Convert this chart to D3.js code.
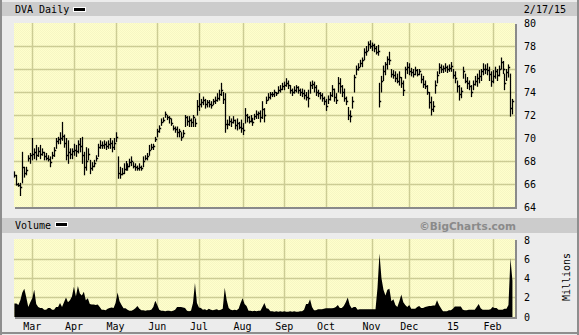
<!DOCTYPE html>
<html><head><meta charset="utf-8">
<script src="https://cdn.jsdelivr.net/npm/d3@7"></script>
<style>
html,body{margin:0;padding:0;background:#ececec;}
svg{display:block;}
text{font-family:"DejaVu Sans Mono","Liberation Mono",monospace;font-size:10px;fill:#000;}
</style></head><body>
<svg id="c" width="579" height="335"></svg>
<script>
const symbolTitle = "DVA Daily";
const asOfLabel = "2/17/15";
const volumeTitle = "Volume";
const creditText = "\u00A9BigCharts.com";
const volumeUnit = "Millions";
const priceTicks = [64, 66, 68, 70, 72, 74, 76, 78, 80];
const volumeTicks = [0, 2, 4, 6, 8];
const monthLabels = ["Mar","Apr","May","Jun","Jul","Aug","Sep","Oct","Nov","Dec","15","Feb"];
const firstDay = "2014-02-18", lastDay = "2015-02-17";
const holidays = ["2014-04-18","2014-05-26","2014-07-04","2014-09-01","2014-11-27","2014-12-25","2015-01-01","2015-01-19","2015-02-16"];

const high = [67.1,66.8,66.1,66.1,68.8,67.5,67.5,68.5,68.7,70.0,
69.1,69.4,69.2,69.4,69.1,68.8,68.7,68.5,68.4,68.8,
69.2,70.0,70.1,70.5,71.4,70.3,70.0,69.8,69.1,69.1,
69.5,69.4,69.8,70.0,70.1,68.8,69.2,69.1,68.1,67.9,
68.1,68.5,69.5,69.8,69.7,69.8,69.7,69.8,70.0,69.8,
70.0,70.5,68.4,67.5,67.4,67.8,68.0,67.8,68.2,68.4,
67.9,67.8,67.6,67.8,67.6,68.4,68.5,68.7,69.4,69.5,
69.5,70.1,70.8,71.1,71.7,71.8,72.3,72.0,71.9,71.7,
71.1,71.0,71.0,70.8,70.5,70.7,72.0,71.9,71.9,71.7,
72.0,71.7,73.3,73.9,73.4,73.6,73.4,73.3,73.3,73.2,
73.4,73.6,73.9,74.2,74.8,74.0,73.9,71.6,71.9,71.7,
71.9,71.6,71.7,71.4,71.6,71.3,72.6,72.1,71.9,72.0,
71.7,72.1,72.4,72.3,72.4,73.2,72.6,73.6,73.9,74.0,
74.0,74.2,74.0,74.5,74.6,74.8,74.9,75.2,75.0,74.6,
74.3,74.5,74.6,74.5,74.3,74.3,74.2,74.0,74.2,74.9,
75.0,74.9,74.6,74.2,74.0,73.9,73.6,73.4,73.7,74.0,
74.6,74.3,73.9,75.3,75.2,74.6,74.3,73.6,72.7,72.4,
73.6,75.5,76.3,76.5,76.8,77.0,77.8,78.0,78.4,78.5,
78.3,78.2,78.0,78.1,74.8,75.4,76.3,76.6,77.1,77.5,
76.0,75.9,75.8,75.6,75.8,75.3,75.0,76.2,76.6,76.5,
76.1,76.0,76.2,76.0,76.0,75.6,75.4,75.0,74.6,74.0,
73.6,73.2,75.0,75.8,76.5,76.4,76.3,76.5,76.3,76.4,
76.6,76.0,75.8,75.0,74.6,74.4,76.2,75.6,75.3,75.0,
74.6,75.0,75.4,75.6,75.9,76.0,76.5,76.4,76.5,76.2,
75.8,75.9,76.2,76.0,76.3,77.0,76.7,75.6,76.0,76.4,
75.6,73.4];

const low = [66.6,65.9,65.8,65.0,66.1,66.6,66.8,68.0,67.8,68.1,
68.2,68.1,68.4,68.2,68.5,68.1,68.1,68.0,67.5,68.2,
68.4,69.1,69.5,69.5,69.8,69.2,68.1,67.8,68.2,68.2,
68.5,68.4,68.7,68.8,67.8,66.8,67.2,68.1,66.9,67.2,
67.5,68.0,68.4,69.1,69.1,69.1,69.0,69.1,69.1,68.8,
69.0,69.7,66.5,66.5,66.8,66.9,67.2,67.2,67.5,67.6,
67.4,67.2,67.2,67.2,67.2,67.5,68.1,68.1,68.5,69.0,
69.0,69.7,70.1,70.5,71.1,71.4,71.8,71.6,71.3,71.1,
70.7,70.5,70.1,70.1,69.8,70.1,71.0,71.1,71.0,71.0,
71.0,71.0,72.0,72.4,72.7,72.9,72.6,72.7,72.7,72.6,
72.9,73.0,73.2,73.3,73.7,73.0,70.5,70.8,71.1,71.0,
71.3,70.8,70.7,70.8,70.5,70.3,71.3,71.4,71.3,71.4,
71.1,71.6,71.7,71.7,71.4,71.7,71.4,73.0,73.3,73.4,
73.6,73.6,73.7,73.9,74.0,74.2,74.2,74.5,74.3,73.9,
73.7,73.9,74.0,73.9,73.7,73.6,73.4,73.3,72.7,73.9,
74.3,74.0,73.7,73.6,73.4,73.2,72.9,72.4,73.0,73.3,
73.6,73.2,73.0,74.0,73.9,73.6,73.2,72.9,71.6,71.4,
72.6,74.0,75.5,75.9,76.2,76.2,76.8,77.2,77.6,77.8,
77.6,77.5,77.3,77.2,72.7,74.0,75.0,75.5,76.0,76.4,
75.3,75.2,74.9,74.8,74.6,74.4,73.7,75.2,75.6,75.5,
75.4,75.3,75.5,75.4,75.5,74.8,74.4,74.3,73.8,72.6,
72.0,72.3,73.9,74.8,75.6,75.7,75.7,75.8,75.7,75.8,
75.8,75.2,74.8,74.0,73.3,73.5,75.2,74.8,74.3,74.2,
73.6,74.2,74.6,74.5,74.8,75.0,75.5,75.6,75.5,75.0,
74.5,74.8,75.2,75.0,75.4,76.0,75.6,74.2,75.0,75.3,
71.9,72.1];

const close = [66.8,66.0,65.9,65.7,67.5,67.0,67.2,68.3,68.5,68.6,
68.8,68.5,68.9,68.6,68.8,68.4,68.3,68.2,67.9,68.5,
69.0,69.7,69.9,70.0,70.2,69.6,68.5,68.8,68.6,68.9,
69.0,68.9,69.5,69.3,68.5,67.5,68.0,68.6,67.4,67.6,
67.8,68.3,69.2,69.4,69.4,69.5,69.3,69.5,69.6,69.2,
69.6,70.1,67.0,66.9,67.0,67.3,67.5,67.6,67.9,68.0,
67.6,67.5,67.4,67.5,67.4,68.0,68.3,68.4,69.0,69.2,
69.3,69.9,70.6,70.9,71.4,71.6,72.1,71.8,71.7,71.3,
70.9,70.8,70.5,70.6,70.1,70.4,71.8,71.5,71.6,71.4,
71.8,71.3,72.8,73.0,73.1,73.3,73.0,73.1,73.0,72.9,
73.2,73.3,73.5,73.8,74.2,73.4,71.2,71.2,71.5,71.4,
71.6,71.1,71.3,71.0,70.9,70.7,72.0,71.8,71.5,71.7,
71.4,71.9,72.1,72.2,71.8,72.5,72.0,73.3,73.6,73.8,
73.8,74.0,73.9,74.2,74.3,74.5,74.6,74.8,74.6,74.2,
74.0,74.2,74.4,74.2,74.0,73.9,73.7,73.6,73.5,74.6,
74.7,74.4,74.0,73.9,73.7,73.5,73.2,72.8,73.4,73.7,
74.3,73.6,73.3,74.8,74.5,74.0,73.5,73.2,72.0,71.9,
73.2,75.3,76.0,76.2,76.5,76.8,77.5,77.6,78.2,78.0,
78.1,77.8,77.5,77.6,73.2,75.0,75.8,76.4,76.9,76.8,
75.6,75.5,75.2,75.0,75.3,74.8,74.2,76.0,76.2,75.8,
75.7,75.6,75.9,75.6,75.8,75.1,74.7,74.5,74.0,73.1,
72.5,72.8,74.6,75.5,76.2,76.0,76.1,76.2,76.0,76.1,
76.3,75.5,75.2,74.5,73.8,74.1,75.8,75.0,74.8,74.5,
74.0,74.7,75.0,75.2,75.4,75.8,76.0,76.0,75.9,75.6,
75.0,75.4,75.8,75.5,76.0,76.6,76.0,74.8,75.7,76.2,
72.6,73.2];

const volume = [1.35,1.35,1.2,1.7,2.5,2.9,2.0,1.0,1.5,1.9,
2.8,1.3,1.0,0.9,0.9,0.7,0.7,0.9,0.9,0.7,
0.7,1.0,1.0,1.4,1.0,1.5,2.0,1.5,1.7,2.1,
3.1,2.1,3.2,2.4,2.2,2.6,1.7,1.9,1.3,1.25,
1.25,1.2,1.25,1.0,0.7,0.7,0.65,0.8,0.9,0.95,
0.9,1.4,2.5,1.6,1.2,0.85,0.85,0.7,0.6,0.6,
0.7,0.85,1.1,0.8,0.65,0.65,0.6,0.65,0.65,0.7,
1.0,1.65,1.2,0.7,0.6,0.6,0.55,0.6,0.6,0.55,
0.6,0.7,1.0,1.0,1.0,0.95,0.9,0.6,0.55,0.6,
1.4,3.5,1.4,0.95,0.9,0.7,0.75,0.65,0.8,0.7,
0.65,0.7,0.75,0.65,0.7,0.8,3.0,1.7,0.9,0.7,
0.65,0.7,0.65,0.8,1.4,1.9,1.3,1.1,0.6,0.6,
0.55,0.6,0.55,0.6,0.6,1.0,1.4,0.85,0.8,0.55,
0.55,0.5,0.55,0.5,0.55,0.5,0.55,0.5,0.5,0.55,
0.5,0.55,0.5,0.5,0.55,0.55,0.7,1.3,1.3,1.8,
1.0,0.65,0.65,0.75,0.75,0.75,0.8,0.85,0.85,0.85,
0.85,0.9,1.0,1.2,0.9,0.9,1.1,1.5,2.0,1.2,
0.85,1.0,1.0,0.7,0.75,0.75,0.75,0.75,0.75,0.75,
0.75,0.75,0.75,3.0,6.6,4.0,2.8,2.2,2.8,2.9,
1.6,1.8,1.2,1.0,1.6,2.3,1.5,1.2,1.0,1.2,
0.8,0.8,0.8,1.0,1.1,0.9,0.9,1.0,1.05,1.1,
1.1,1.15,1.15,1.7,1.2,0.85,0.55,0.55,0.55,0.65,
0.65,0.8,1.05,1.05,1.05,1.05,0.7,0.65,0.65,0.7,
0.7,0.7,0.7,1.0,1.3,0.85,0.7,0.7,0.7,0.7,
0.75,1.0,0.9,0.9,0.7,0.7,0.7,0.8,0.8,1.2,
6.1,3.75];

// trading days
const fmt = d3.timeFormat("%Y-%m-%d");
const parse = d3.timeParse("%Y-%m-%d");
const days = d3.timeDay.range(parse(firstDay), d3.timeDay.offset(parse(lastDay), 1))
  .filter(d => d.getDay() !== 0 && d.getDay() !== 6 && !holidays.includes(fmt(d)));
const n = Math.min(days.length, high.length);
const data = d3.range(n).map(i => ({i, date: days[i], h: high[i], l: low[i], c: close[i], v: volume[i]}));
const monthStarts = [];
for (let i = 1; i < days.length; i++) if (days[i].getMonth() !== days[i-1].getMonth()) monthStarts.push(i);

const svg = d3.select("#c");
const L = 14, R = 515;
const P = {top: 23, bottom: 207};
const V = {top: 239, bottom: 317};
const x = d3.scaleLinear().domain([-0.2, 252.8]).range([L, 516]);
const yP = d3.scaleLinear().domain([64, 80]).range([P.bottom, P.top]);
const yV = d3.scaleLinear().domain([0, 8]).range([316.5, 240]);

// frame
svg.append("rect").attr("x",0).attr("y",0).attr("width",579).attr("height",335).attr("fill","#ececec");
svg.append("rect").attr("x",2).attr("y",2).attr("width",575).attr("height",14).attr("fill","#cccccc");
svg.append("rect").attr("x",2).attr("y",218).attr("width",575).attr("height",15).attr("fill","#cccccc");
svg.append("rect").attr("x",0).attr("y",0).attr("width",2).attr("height",335).attr("fill","#8e8e8e");
svg.append("rect").attr("x",577).attr("y",0).attr("width",2).attr("height",335).attr("fill","#8e8e8e");
svg.append("rect").attr("x",0).attr("y",332).attr("width",579).attr("height",2).attr("fill","#8e8e8e");

// pattern
const defs = svg.append("defs");
const pat = defs.append("pattern").attr("id","dots").attr("width",2).attr("height",2).attr("patternUnits","userSpaceOnUse");
pat.append("rect").attr("width",2).attr("height",2).attr("fill","#ffffcc");
pat.append("rect").attr("x",0).attr("y",0).attr("width",1).attr("height",1).attr("fill","#f6f6c4");
pat.append("rect").attr("x",1).attr("y",1).attr("width",1).attr("height",1).attr("fill","#f6f6c4");

function panel(top, bottom) {
  svg.append("rect").attr("x", L+1).attr("y", top+1).attr("width", R-L+1).attr("height", bottom-top+1).attr("fill","#8a8a8a");
  svg.append("rect").attr("x", L).attr("y", top).attr("width", R-L).attr("height", bottom-top).attr("fill","url(#dots)");
}
panel(P.top, P.bottom);
panel(V.top, V.bottom);

const gridColor = "#cccc94";
[[P.top,P.bottom],[V.top,V.bottom]].forEach(([t,b]) => {
  svg.append("g").selectAll("line").data(monthStarts).join("line")
    .attr("x1", i => Math.round(x(i))+0.5).attr("x2", i => Math.round(x(i))+0.5)
    .attr("y1", t).attr("y2", b).attr("stroke", gridColor).attr("stroke-width", 1.5);
});
svg.append("g").selectAll("line").data(priceTicks.slice(1,-1)).join("line")
  .attr("x1", L).attr("x2", R).attr("y1", d => Math.round(yP(d))+0.5).attr("y2", d => Math.round(yP(d))+0.5)
  .attr("stroke", gridColor).attr("stroke-width", 1.5);
svg.append("g").selectAll("line").data(volumeTicks.slice(1,-1)).join("line")
  .attr("x1", L).attr("x2", R).attr("y1", d => Math.round(yV(d))+0.5).attr("y2", d => Math.round(yV(d))+0.5)
  .attr("stroke", gridColor).attr("stroke-width", 1.5);

// volume area
svg.append("path").datum(data)
  .attr("d", d3.area().x(d => x(d.i)).y0(V.bottom).y1(d => yV(d.v)))
  .attr("fill", "#000");

// price bars (high-low with close tick)
const bars = svg.append("g").attr("stroke", "#000").attr("fill","none");
bars.selectAll("line.hl").data(data).join("line").attr("class","hl")
  .attr("stroke-width", 1.25)
  .attr("x1", d => Math.round(x(d.i))+0.5).attr("x2", d => Math.round(x(d.i))+0.5)
  .attr("y1", d => yP(d.h)).attr("y2", d => yP(d.l)+0.5);
bars.selectAll("line.cl").data(data).join("line").attr("class","cl")
  .attr("stroke-width", 1.4)
  .attr("x1", d => Math.round(x(d.i))+1).attr("x2", d => Math.round(x(d.i))+2.2)
  .attr("y1", d => Math.round(yP(d.c))+0.5).attr("y2", d => Math.round(yP(d.c))+0.5);

// axes labels
svg.append("g").selectAll("text").data(priceTicks).join("text")
  .attr("x", 524).attr("y", d => yP(d) + 4).text(d => d);
svg.append("g").selectAll("text").data(volumeTicks).join("text")
  .attr("x", 524).attr("y", d => yV(d) + 4).text(d => d);
svg.append("g").selectAll("text").data(monthStarts.slice(0, monthLabels.length)).join("text")
  .attr("x", i => x(i)).attr("y", 330).attr("text-anchor","middle").text((i, k) => monthLabels[k]);

svg.append("text").attr("transform","translate(570,277) rotate(-90)").attr("text-anchor","middle").text(volumeUnit);

// titles
svg.append("text").attr("x", 15).attr("y", 13).text(symbolTitle);
svg.append("rect").attr("x",73).attr("y",7).attr("width",13).attr("height",5).attr("fill","#fff");
svg.append("rect").attr("x",74).attr("y",8).attr("width",11).attr("height",3).attr("fill","#000");
svg.append("text").attr("x", 566).attr("y", 13).attr("text-anchor","end").text(asOfLabel);
svg.append("text").attr("x", 15).attr("y", 229).text(volumeTitle);
svg.append("rect").attr("x",55).attr("y",222).attr("width",13).attr("height",5).attr("fill","#fff");
svg.append("rect").attr("x",56).attr("y",223).attr("width",11).attr("height",3).attr("fill","#000");
svg.append("text").attr("x", 516).attr("y", 230).attr("text-anchor","end")
  .style("font-family","'DejaVu Sans',Verdana,sans-serif").style("font-weight","bold").style("font-size","10.5px")
  .style("fill","#8a8a8a").text(creditText);
</script>
</body></html>
